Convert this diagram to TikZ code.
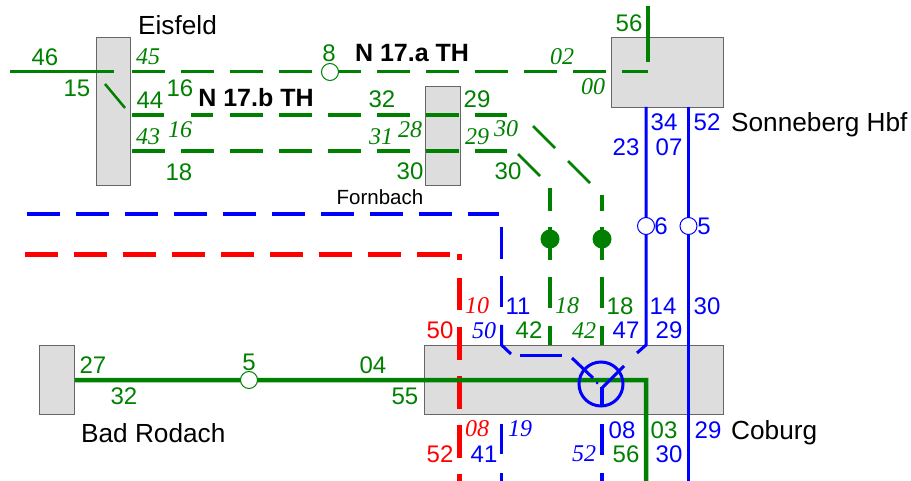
\documentclass[tikz,border=0pt]{standalone}
\usepackage{fontspec}
\setmainfont{Liberation Sans}
\newfontfamily\ital{Liberation Serif}[ItalicFont=* Italic]
\definecolor{grn}{HTML}{008000}
\definecolor{blu}{HTML}{0000FF}
\definecolor{rd}{HTML}{FF0000}
\definecolor{bf}{HTML}{DDDDDD}
\tikzset{
 bahnhof/.style={draw=black!60,fill=bf,line width=1.2pt,inner sep=0,anchor=north west},
 gerade/.style={inner sep=0,font=\fontsize{24}{24}\selectfont},
 kursiv/.style={inner sep=0,font=\fontsize{24}{24}\selectfont\ital\itshape},
 ort/.style={inner sep=0,anchor=west,text=black,font=\fontsize{26.2}{27}\selectfont},
 titel/.style={inner sep=0,text=black,font=\fontsize{25}{25}\selectfont\bfseries},
 km/.style={circle,fill=white,line width=1pt,minimum size=17pt,inner sep=0},
 takt/.style={dash pattern=on 32.5pt off 16.5pt},
}
\begin{document}
\begin{tikzpicture}[x=1pt,y=-1pt]
 \useasboundingbox (0,0) rectangle (911,481);
 \node[bahnhof,minimum width=34pt,minimum height=148pt] (eisfeld) at (96,37) {}; %Eisfeld
 \node[bahnhof,minimum width=35pt,minimum height=99pt] (fornbach) at (425,86) {}; %Fornbach
 \node[bahnhof,minimum width=112pt,minimum height=70pt] (sonneberg) at (611,37) {}; %Sonneberg
 \node[bahnhof,minimum width=35pt,minimum height=69pt] (rodach) at (39,345) {}; %Bad Rodach
 \node[bahnhof,minimum width=299pt,minimum height=69pt] (coburg) at (424,345) {}; %Coburg

 \coordinate (oben) at (648,6);
 \coordinate (ra) at (25,255);
 \coordinate (rb) at (449.5,255);
 \coordinate (rc) at (459,278);
 \coordinate (rd1) at (459,481);
 \coordinate (ga) at (132,72);
 \coordinate (gb) at (648,72);
 \coordinate (ka) at (646,380);
 \coordinate (kb) at (646,481);

 %rot
 \draw[rd,line width=5pt,takt] (ra)--(rb);
 \draw[rd,line width=5pt] (459,254)--(459,260);
 \draw[rd,line width=5pt,takt] (rc)--(rd1);

 %gruen
 \draw[grn,line width=3pt] (10,72)--(114,72);
 \draw[grn,line width=2.5pt] (105,84)--(125,108);
 \draw[grn,line width=3pt,takt] (ga)--(gb);
 \draw[grn,line width=4pt] (oben)--(648,62);
 \draw[grn,line width=4pt] (132,115)--(164,115) (191,115)--(213,115);
 \draw[grn,line width=4pt,takt] (230,115)--(507,115);
 \draw[grn,line width=4pt,takt] (132,151)--(507,151);
 \draw[grn,line width=2.5pt] (518,154)--(540,176);
 \draw[grn,line width=2.5pt] (533,126)--(555,148);
 \draw[grn,line width=2.5pt] (568,161)--(590,183);
 \foreach \x/\y in {550/188,602/195} {
   \draw[grn,line width=4pt] (\x,\y)--(\x,211);
   \draw[grn,line width=4pt] (\x,227)--(\x,260);
   \draw[grn,line width=4pt] (\x,277)--(\x,308) (\x,326)--(\x,345);
 }
 \node[circle,fill=grn,minimum size=19pt,inner sep=0] (halt1) at (550,239) {};
 \node[circle,fill=grn,minimum size=19pt,inner sep=0] (halt2) at (602,239) {};
 \draw[grn,line width=4.5pt] (rodach.east)--(ka)--(kb);
 \node[km,draw=grn] (km8) at (330,72) {};
 \node[km,draw=grn] (km5) at (249,380) {};

 %blau
 \draw[blu,line width=4pt,takt] (27,214)--(499,214);
 \draw[blu,line width=3pt] (501.5,227)--(501.5,259) (501.5,276)--(501.5,307);
 \draw[blu,line width=3pt] (501.5,325)--(501.5,345)--(511,354);
 \draw[blu,line width=3pt] (520,355)--(562,355);
 \draw[blu,line width=3pt] (572,358)--(593,378);
 \fill[blu] (597,383) circle (1.5);
 \draw[blu,line width=3pt] (601,384) circle (22);
 \draw[blu,line width=3pt] (624,366)--(602,388);
 \draw[blu,line width=4pt] (602,387)--(602,406);
 \draw[blu,line width=3pt] (637,353)--(646,345)--(646,107);
 \draw[blu,line width=3pt] (688.5,107)--(688.5,481);
 \draw[blu,line width=3pt] (501.5,424)--(501.5,454) (501.5,473)--(501.5,481);
 \draw[blu,line width=4pt] (602,424)--(602,455) (602,473)--(602,481);
 \node[km,draw=blu] (km6) at (646,226) {};
 \node[km,draw=blu] (km5b) at (688.5,226) {};

 %Beschriftung
 \foreach \x/\y/\t [count=\i] in {45/57/46,77/88/15,180/88/16,150/100/44,382/99/32,477/99/29,
   179/172/18,410/171/30,508/171/30,329/53/8,629/23/56,529/330/42,620/306/18,
   664/430/03,626/454/56,93/365/27,124/396/32,249/362/5,373/365/04,405/396/55}
   \node[gerade,text=grn] (gn\i) at (\x,\y) {\t};
 \foreach \x/\y/\t [count=\i] in {664/122/34,707/122/52,626/147/23,669/147/07,661/226/6,704/226/5,
   518/306/11,663/306/14,707/306/30,626/330/47,669/330/29,622/430/08,708/430/29,
   484/454/41,669/454/30}
   \node[gerade,text=blu] (bn\i) at (\x,\y) {\t};
 \node[gerade,text=rd] (rn1) at (440,330) {50};
 \node[gerade,text=rd] (rn2) at (440,454) {52};
 \foreach \x/\y/\t [count=\i] in {148/57/45,148/137/43,180/130/16,381/137/31,410/130/28,477/137/29,
   506/129/30,562/57/02,593/87/00,567/306/18,584/331/42}
   \node[kursiv,text=grn] (gk\i) at (\x,\y) {\t};
 \foreach \x/\y/\t [count=\i] in {484/331/50,520/429/19,584/454/52}
   \node[kursiv,text=blu] (bk\i) at (\x,\y) {\t};
 \node[kursiv,text=rd] (rk1) at (477,306) {10};
 \node[kursiv,text=rd] (rk2) at (477,429) {08};

 \node[ort] (neisfeld) at (138,25) {Eisfeld};
 \node[ort] (nsonneberg) at (731,125) {Sonneberg Hbf};
 \node[ort] (ncoburg) at (731,433) {Coburg};
 \node[ort] (nrodach) at (81,433) {Bad Rodach};
 \node[inner sep=0,text=black,font=\fontsize{20.5}{21}\selectfont] (nfornbach) at (380,197) {Fornbach};
 \node[titel] (na) at (412,53) {N 17.a TH};
 \node[titel] (nb) at (256,97.5) {N 17.b TH};
\end{tikzpicture}
\end{document}
